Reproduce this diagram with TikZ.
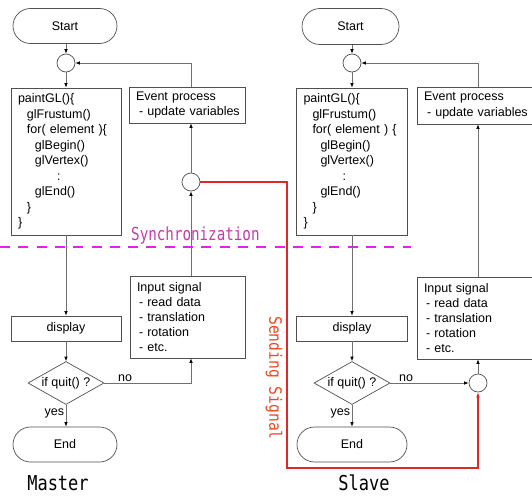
\documentclass[tikz,border=0pt]{standalone}
\usepackage{fontspec}
\setmainfont{Liberation Sans}
\newfontfamily\monofnt{DejaVu Sans Mono}
\usetikzlibrary{shapes.misc,shapes.geometric,arrows.meta,calc}
\definecolor{boxc}{HTML}{505050}
\definecolor{linec}{HTML}{707070}
\definecolor{syncc}{HTML}{E620E6}
\definecolor{synct}{HTML}{C03CA8}
\definecolor{sigc}{HTML}{E02828}
\definecolor{sigt}{HTML}{E84A20}
\begin{document}
\begin{tikzpicture}[x=1pt,y=-1pt,
  every node/.style={font=\fontsize{12.5}{15.2}\selectfont, text=black},
  term/.style={rounded rectangle, draw=boxc, line width=0.7pt, inner sep=0pt},
  proc/.style={rectangle, draw=boxc, line width=0.7pt, inner sep=0pt},
  txtbox/.style={proc, align=left, inner xsep=7pt},
  junc/.style={circle, draw=boxc, line width=0.7pt, minimum size=18pt, inner sep=0pt},
  dec/.style={diamond, draw=boxc, line width=0.7pt, inner sep=0pt, aspect=1.77,
              minimum width=76pt, minimum height=43pt},
  conn/.style={draw=linec, line width=0.7pt, -{Latex[length=4.5pt,width=3.6pt,color=black]}},
  sig/.style={draw=sigc, line width=1.2pt, -{Latex[length=5pt,width=4pt,color=sigc]}},
  lbl/.style={inner sep=1.5pt},
  bigmono/.style={font=\monofnt\fontsize{20.5}{20.5}\selectfont, inner sep=0pt},
  codefont/.style={font=\fontsize{12.5}{15.5}\selectfont}
]
\path[use as bounding box] (0,0) rectangle (532,495);

% ---------------- Master ----------------
\node[term, minimum width=104pt, minimum height=35pt] (startM) at (65,26) {Start};
\node[junc] (c1) at (66,63) {};
\node[txtbox, codefont, minimum width=110pt, minimum height=147pt, text width=96pt] (paintM) at (66,161.5)
 {paintGL()\{\\
  \hspace*{9pt}glFrustum()\\
  \hspace*{9pt}for( element )\{\\
  \hspace*{17pt}glBegin()\\
  \hspace*{17pt}glVertex()\\
  \hspace*{39pt}:\\
  \hspace*{17pt}glEnd()\\
  \hspace*{9pt}\}\\
  \}};
\node[txtbox, minimum width=116pt, minimum height=36pt, text width=102pt] (evM) at (187,105)
 {\mbox{Event process}\\ \mbox{\hspace*{3pt}- update variables}};
\node[junc] (c2) at (191,182) {};
\node[txtbox, minimum width=115pt, minimum height=82pt, text width=101pt] (inM) at (187.5,317)
 {Input signal\\ \hspace*{2pt}- read data\\ \hspace*{2pt}- translation\\ \hspace*{2pt}- rotation\\ \hspace*{2pt}- etc.};
\node[proc, minimum width=110pt, minimum height=25pt] (dispM) at (66,328.5) {display};
\node[dec] (diaM) at (66,383) {if quit() ?};
\node[term, minimum width=104pt, minimum height=35pt] (endM) at (65,444.5) {End};
\node[bigmono] (master) at (58,483) {\scalebox{0.83}[1]{Master}};

% ---------------- Slave ----------------
\node[term, minimum width=97pt, minimum height=36pt] (startS) at (350.5,26.5) {Start};
\node[junc] (c3) at (352,63) {};
\node[txtbox, codefont, minimum width=111pt, minimum height=147pt, text width=97pt] (paintS) at (352,161.5)
 {paintGL()\{\\
  \hspace*{9pt}glFrustum()\\
  \hspace*{9pt}for( element ) \{\\
  \hspace*{17pt}glBegin()\\
  \hspace*{17pt}glVertex()\\
  \hspace*{39pt}:\\
  \hspace*{17pt}glEnd()\\
  \hspace*{9pt}\}\\
  \}};
\node[txtbox, minimum width=120pt, minimum height=37pt, text width=106pt] (evS) at (477,105.5)
 {\mbox{Event process}\\ \mbox{\hspace*{3pt}- update variables}};
\node[txtbox, minimum width=120pt, minimum height=82pt, text width=106pt] (inS) at (477,318)
 {Input signal\\ \hspace*{2pt}- read data\\ \hspace*{2pt}- translation\\ \hspace*{2pt}- rotation\\ \hspace*{2pt}- etc.};
\node[junc] (c4) at (478,383) {};
\node[proc, minimum width=111pt, minimum height=25pt] (dispS) at (352,328.5) {display};
\node[dec] (diaS) at (352,383) {if quit() ?};
\node[term, minimum width=110pt, minimum height=35pt] (endS) at (352,444.5) {End};
\node[bigmono] (slave) at (364,482.5) {\scalebox{0.83}[1]{Slave}};

% ---------------- Synchronization ----------------
\coordinate (syncA) at (0,247);
\coordinate (syncB) at (411,247);
\draw[syncc, line width=2.6pt, dash pattern=on 10pt off 8.3pt] (syncA) -- (syncB);
\node[anchor=base west, inner sep=0pt, text=synct, font=\monofnt\fontsize{18}{18}\selectfont] (synctext) at (131,240)
 {\scalebox{0.79}[1]{Synchronization}};

% ---------------- Master connectors ----------------
\draw[conn] (startM.south -| c1) -- (c1.north);
\draw[conn] (c1.south) -- (paintM.north);
\draw[conn] (paintM.south) -- (dispM.north);
\draw[conn] (dispM.south) -- (diaM.north);
\draw[conn] (diaM.south) -- node[lbl, left, pos=0.4] {yes} (endM.north -| diaM);
\draw[conn] (diaM.east) -| node[lbl, above, pos=0.12] {no} (inM.south -| c2);
\draw[conn] (inM.north -| c2) -- (c2.south);
\draw[conn] (c2.north) -- (evM.south -| c2);
\draw[conn] (evM.north -| c2) |- (c1.east);

% ---------------- Slave connectors ----------------
\draw[conn] (startS.south -| c3) -- (c3.north);
\draw[conn] (c3.south) -- (paintS.north);
\draw[conn] (paintS.south) -- (dispS.north);
\draw[conn] (dispS.south) -- (diaS.north);
\draw[conn] (diaS.south) -- node[lbl, left, pos=0.4] {yes} (endS.north);
\draw[conn] (diaS.east) -- node[lbl, above, pos=0.2] {no} (c4.west);
\draw[conn] (c4.north) -- (inS.south -| c4);
\draw[conn] (inS.north -| c4) -- (evS.south -| c4);
\draw[conn] (evS.north -| c4) |- (c3.east);

% ---------------- Sending signal ----------------
\coordinate (r1) at (287,468);
\draw[sig] (c2.east) -| (r1) -| (c4.south);
\node[rotate=-90, inner sep=0pt, text=sigt, font=\monofnt\fontsize{17}{17}\selectfont] (sendtext) at (274,378)
 {\scalebox{0.86}[1]{Sending Signal}};
\end{tikzpicture}
\end{document}
